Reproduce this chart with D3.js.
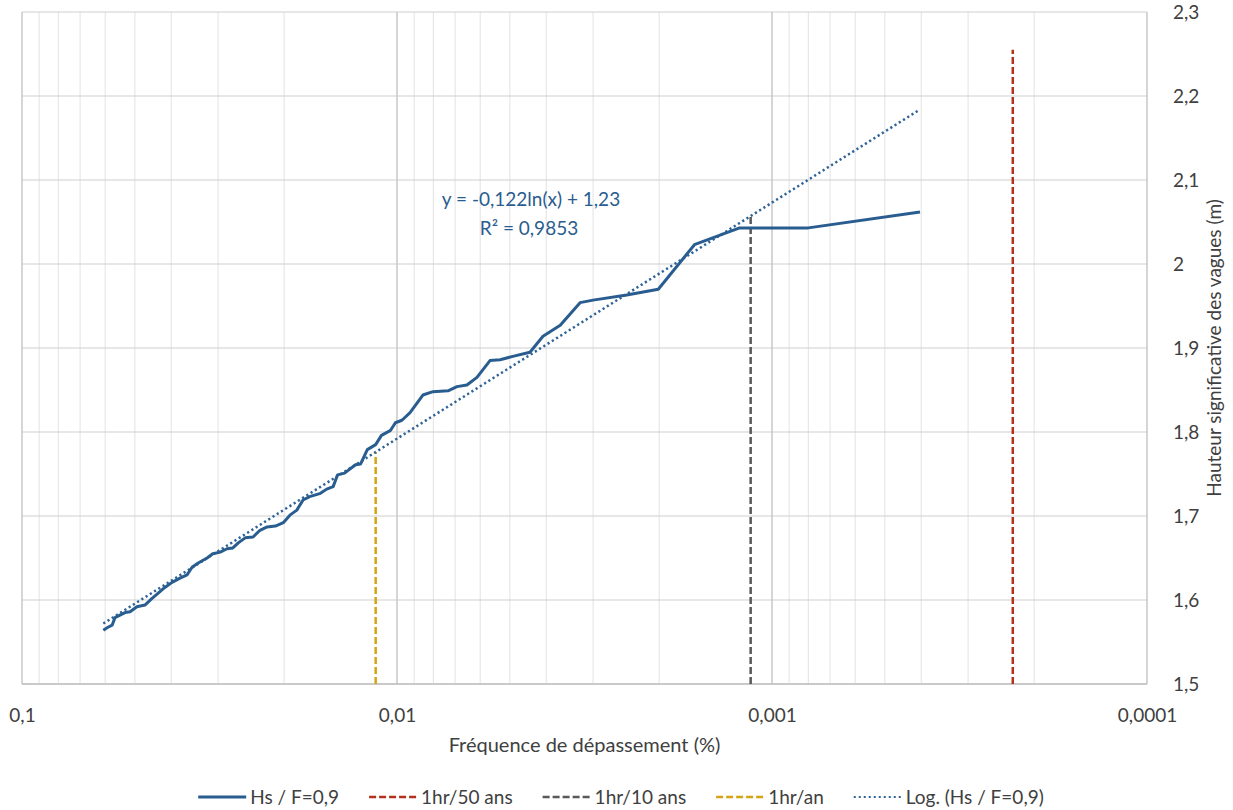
<!DOCTYPE html>
<html><head><meta charset="utf-8">
<script src="https://cdn.jsdelivr.net/npm/d3@7"></script>
<style>
html,body{margin:0;padding:0;background:#fff;}
svg text{font-family:Lato,"Open Sans",sans-serif;fill:#404040;}
</style></head>
<body>
<svg id="chart" width="1233" height="810"></svg>
<script>
// ---- data ----
const freq = [0.0607,0.0593,0.0575,0.0565,0.0548,0.0531,0.0515,0.0494,0.0470,0.0450,0.0434,0.0416,0.0398,0.0379,0.0363,0.0352,0.0339,0.0321,0.0310,0.0296,0.0284,0.0274,0.0265,0.0254,0.0242,0.0232,0.0222,0.0211,0.0201,0.0193,0.0185,0.0178,0.0171,0.0160,0.0154,0.0148,0.0144,0.0138,0.0129,0.0125,0.0120,0.0114,0.0110,0.0104,0.0101,0.0097,0.00923,0.00853,0.00802,0.00731,0.00692,0.00651,0.00612,0.00565,0.00531,0.00491,0.00442,0.00408,0.00367,0.00325,0.00300,0.00244,0.00201,0.00161,0.00122,0.00080,0.000403];
const hs = [1.564,1.567,1.570,1.579,1.582,1.585,1.586,1.592,1.594,1.602,1.608,1.615,1.621,1.626,1.630,1.639,1.644,1.650,1.655,1.657,1.661,1.662,1.668,1.674,1.675,1.683,1.687,1.688,1.692,1.701,1.707,1.719,1.723,1.727,1.732,1.735,1.749,1.751,1.761,1.762,1.779,1.785,1.796,1.802,1.811,1.814,1.823,1.844,1.848,1.849,1.854,1.856,1.865,1.885,1.886,1.890,1.895,1.914,1.927,1.954,1.957,1.963,1.970,2.023,2.043,2.043,2.062];
const trendFreq = [0.0607, 0.000403];
const trendHs = [1.572, 2.184];
const refNames = ["1hr/50 ans","1hr/10 ans","1hr/an"];
const refFreq = [0.000228, 0.00114, 0.0114];
const refTop = [2.255, 2.057, 1.776];
const xTicks = [0.1, 0.01, 0.001, 0.0001];
const xTickLabels = ["0,1","0,01","0,001","0,0001"];
const yTicks = [1.5,1.6,1.7,1.8,1.9,2.0,2.1,2.2,2.3];
const yTickLabels = ["1,5","1,6","1,7","1,8","1,9","2","2,1","2,2","2,3"];
const seriesName = "Hs / F=0,9";
const trendName = "Log. (Hs / F=0,9)";
const eqText = "y = -0,122ln(x) + 1,23";
const r2Text = "R² = 0,9853";
const xTitle = "Fréquence de dépassement (%)";
const yTitle = "Hauteur significative des vagues (m)";

// ---- layout ----
const L=22, R=1147, T=12, B=684;
const blue="#2a5d8f", red="#b3321c", gray="#595959", gold="#d4a414";
const FS=19;

const svg=d3.select("#chart");
const x=d3.scaleLog().domain([0.1,0.0001]).range([L,R]);
const y=d3.scaleLinear().domain([1.5,2.3]).range([B,T]);

// minor vertical grid
const minors=[];
[0.01,0.001,0.0001].forEach(d=>{for(let k=2;k<=9;k++)minors.push(d*k);});
svg.append("g").selectAll("line").data(minors).join("line")
  .attr("x1",d=>x(d)).attr("x2",d=>x(d)).attr("y1",T).attr("y2",B)
  .attr("stroke","#e2e2e2").attr("stroke-width",1);
// horizontal grid
svg.append("g").selectAll("line").data(yTicks).join("line")
  .attr("x1",L).attr("x2",R).attr("y1",d=>y(d)).attr("y2",d=>y(d))
  .attr("stroke","#d0d0d0").attr("stroke-width",1.2);
// major vertical grid
svg.append("g").selectAll("line").data(xTicks).join("line")
  .attr("x1",d=>x(d)).attr("x2",d=>x(d)).attr("y1",T).attr("y2",B)
  .attr("stroke","#c4c4c4").attr("stroke-width",1.4);
// bottom axis line
svg.append("line").attr("x1",L).attr("x2",R).attr("y1",B).attr("y2",B)
  .attr("stroke","#bfbfbf").attr("stroke-width",1.5);

// x axis labels
const xa=svg.append("g").attr("transform",`translate(0,${B})`)
  .call(d3.axisBottom(x).tickValues(xTicks).tickSize(0).tickPadding(0)
    .tickFormat((d,i)=>xTickLabels[i]));
xa.select(".domain").remove();
xa.selectAll("text").attr("font-size",FS).attr("dy",null).attr("y",38)
  .style("font-family","Lato").attr("fill","#404040");

// y axis labels (right)
const ya=svg.append("g").attr("transform",`translate(${R},0)`)
  .call(d3.axisRight(y).tickValues(yTicks).tickSize(0).tickPadding(0)
    .tickFormat((d,i)=>yTickLabels[i]));
ya.select(".domain").remove();
ya.selectAll("text").attr("font-size",FS).attr("x",26).attr("dy","0.35em")
  .style("font-family","Lato").attr("fill","#404040");

// titles
svg.append("text").attr("x",(L+R)/2).attr("y",752).attr("text-anchor","middle")
  .attr("font-size",20).text(xTitle);
svg.append("text").attr("transform",`translate(1221,${(T+B)/2}) rotate(-90)`)
  .attr("text-anchor","middle").attr("font-size",FS).text(yTitle);

// reference vertical dashed lines
const refColors=[red,gray,gold];
svg.append("g").selectAll("line").data(refFreq).join("line")
  .attr("x1",d=>x(d)).attr("x2",d=>x(d)).attr("y1",y(1.5)).attr("y2",(d,i)=>y(refTop[i]))
  .attr("stroke",(d,i)=>refColors[i]).attr("stroke-width",2.5).attr("stroke-dasharray","7,3");

// trend line
const line=d3.line().x(d=>x(d[0])).y(d=>y(d[1]));
svg.append("path").datum(trendFreq.map((f,i)=>[f,trendHs[i]]))
  .attr("d",line).attr("fill","none").attr("stroke","#2f6398")
  .attr("stroke-width",2.5).attr("stroke-dasharray","2.2,2.8");

// series
svg.append("path").datum(freq.map((f,i)=>[f,hs[i]]))
  .attr("d",line).attr("fill","none").attr("stroke",blue)
  .attr("stroke-width",3).attr("stroke-linejoin","round");

// equation
svg.append("text").attr("x",531).attr("y",206).attr("text-anchor","middle")
  .attr("font-size",FS).style("fill",blue).text(eqText);
svg.append("text").attr("x",529).attr("y",235).attr("text-anchor","middle")
  .attr("font-size",FS).style("fill",blue).text(r2Text);

// legend
const legItems=[
  {name:seriesName,color:blue,dash:null,w:3},
  {name:refNames[0],color:red,dash:"7,3",w:2.5},
  {name:refNames[1],color:gray,dash:"7,3",w:2.5},
  {name:refNames[2],color:gold,dash:"7,3",w:2.5},
  {name:trendName,color:"#2f6398",dash:"2,3",w:2}
];
const lg=svg.append("g");
let cx=0;
const ly=797;
legItems.forEach(it=>{
  const g=lg.append("g").attr("transform",`translate(${cx},0)`);
  g.append("line").attr("x1",0).attr("x2",48).attr("y1",ly).attr("y2",ly)
    .attr("stroke",it.color).attr("stroke-width",it.w)
    .attr("stroke-dasharray",it.dash);
  const t=g.append("text").attr("x",52).attr("y",ly).attr("dy","0.35em")
    .attr("font-size",FS).text(it.name);
  cx+=52+t.node().getComputedTextLength()+30;
});
const totalW=cx-30;
lg.attr("transform",`translate(${621-totalW/2},0)`);
</script>
</body></html>
